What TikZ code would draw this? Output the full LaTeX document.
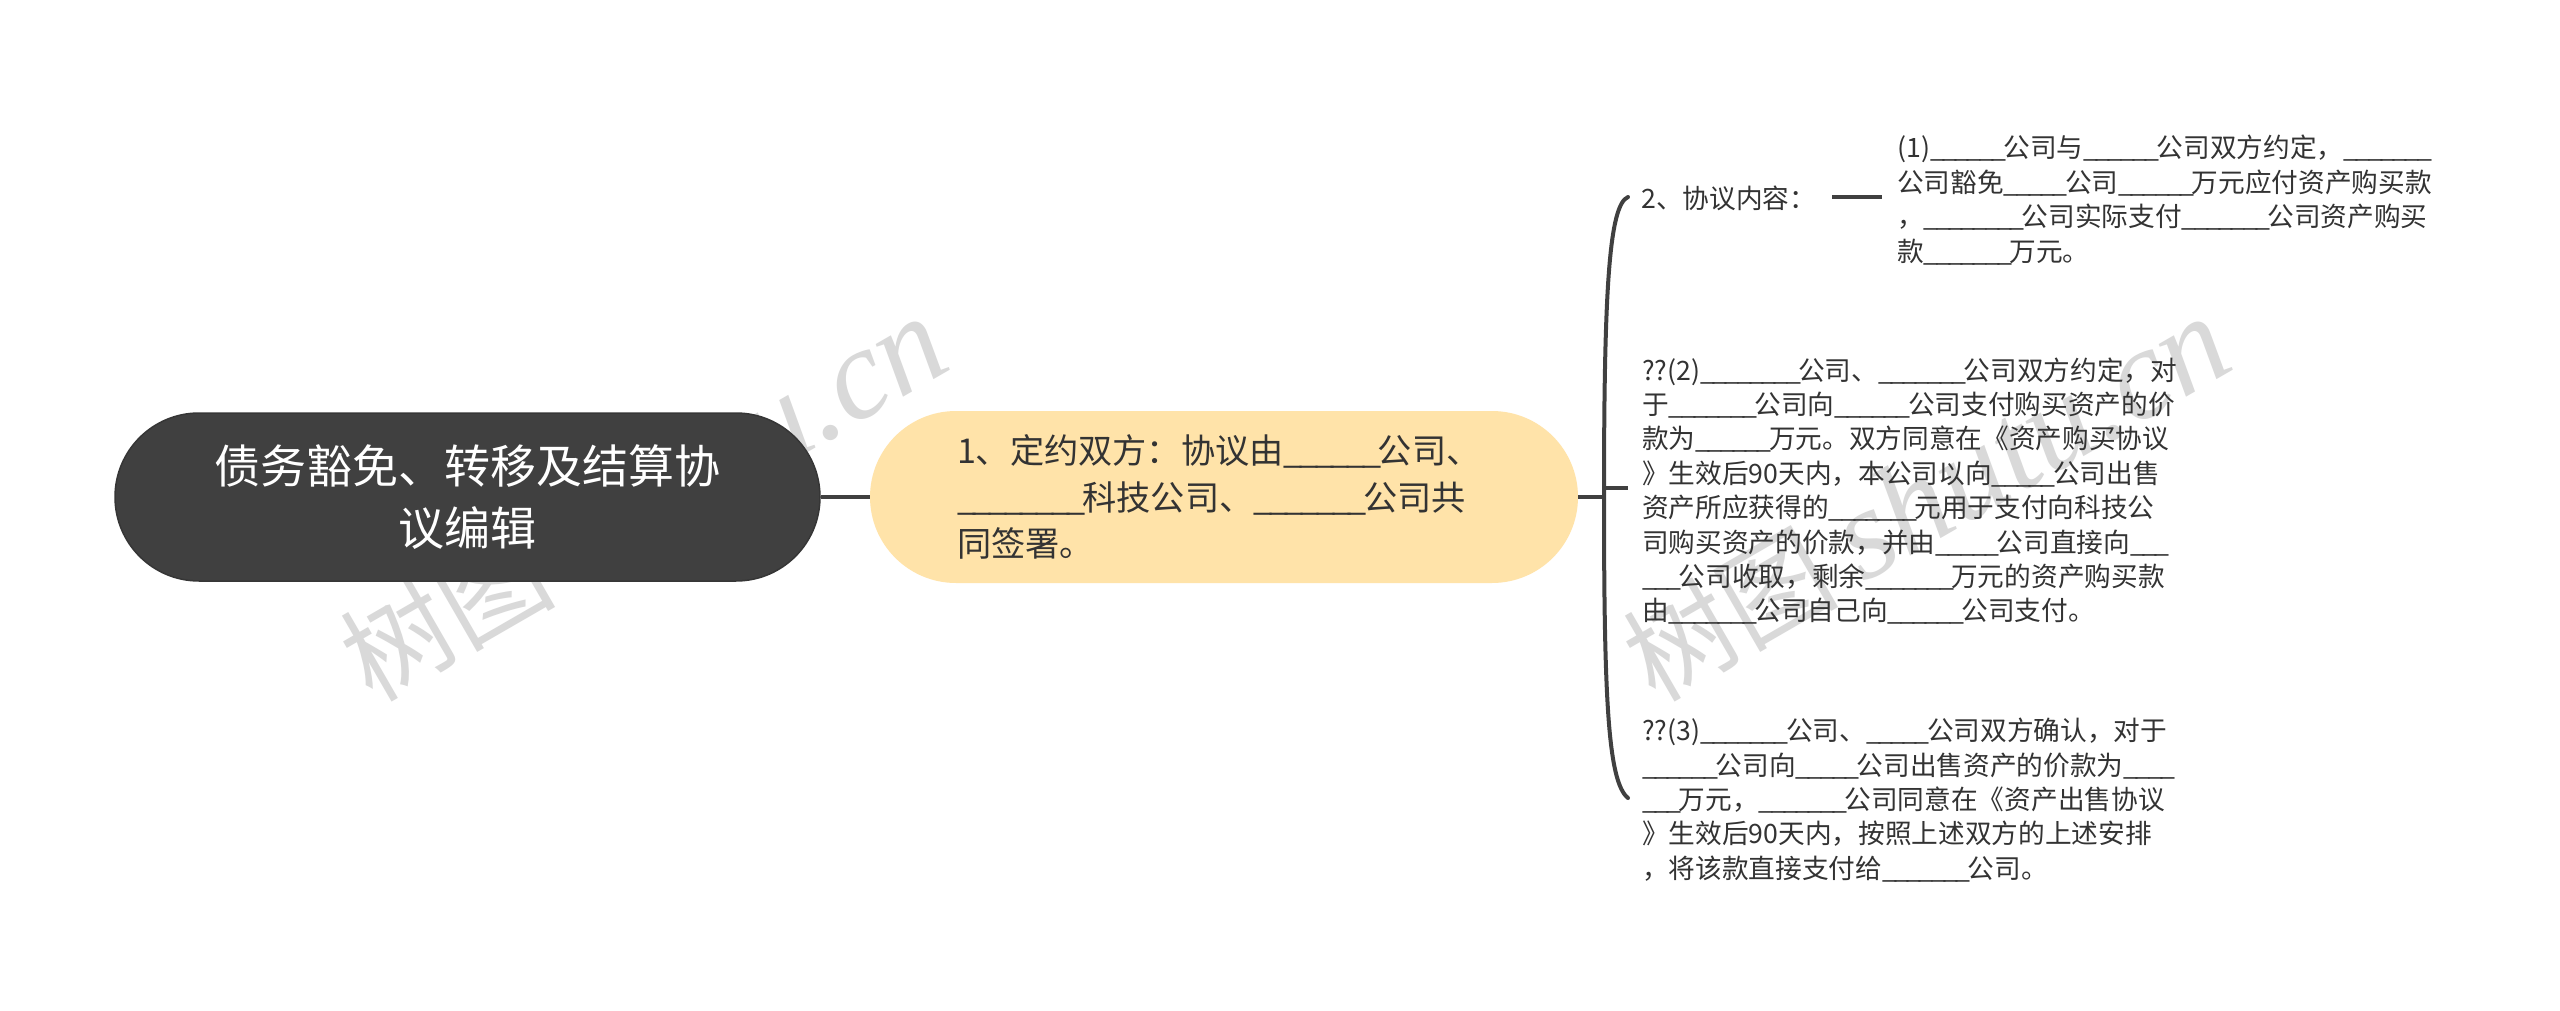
\documentclass[tikz,border=0pt]{standalone}
\usepackage{xcolor}
\usepackage{fontspec}
\usepackage{tikz}
\setmainfont{Noto Sans CJK SC}
\newfontfamily\markfont{Liberation Serif}
\definecolor{rootfill}{HTML}{404040}
\definecolor{mainfill}{HTML}{FFE3A9}
\definecolor{inkcol}{HTML}{333333}
\definecolor{markcol}{HTML}{D9D9D9}
\newcommand{\blank}[1]{\foreach \i in {1,...,#1}{\_\kern-.1em}}
\newcommand{\marktext}{树图 {\markfont\itshape\fontsize{129}{129}\selectfont shutu.cn}}
\tikzstyle{every node}=[inner sep=0pt, text=inkcol]
\tikzstyle{rootbox}=[rectangle, rounded corners=84pt, fill=rootfill, draw=rootfill!85!black, line width=1.5pt, minimum width=705pt, minimum height=168pt, align=center, text=white, font=\fontsize{46}{62}\selectfont]
\tikzstyle{mainbox}=[rectangle, rounded corners=86pt, fill=mainfill, minimum width=708pt, minimum height=172pt, text width=534pt, align=left, font=\fontsize{34.2}{46.6}\selectfont]
\tikzstyle{leaf}=[anchor=west, align=left, font=\fontsize{26.67}{34.4}\selectfont]
\tikzstyle{link}=[draw=rootfill, line width=4pt]
\tikzstyle{watermark}=[anchor=base west, rotate=30, text=markcol, font=\fontsize{108}{108}\selectfont]

\begin{document}
\begin{tikzpicture}[x=1pt, y=-1pt]

                \useasboundingbox (0, 0) rectangle (2560, 1011);
                \fill [white] (0, 0) rectangle (2560, 1011);

                \node [watermark] (markA) at (372, 704) {\marktext};
                \node [watermark] (markB) at (1655, 704) {\marktext};

                \coordinate (Top) at (1628, 197);
                \coordinate (Mid) at (1604, 497);
                \coordinate (Bot) at (1628, 798);
                \coordinate (Fork) at (1604, 488);
                \coordinate (Stub) at (1628, 488);
                \coordinate (ItemL) at (1832, 197);
                \coordinate (ItemR) at (1882, 197);

                \node [rootbox] (root) at (467.5, 497) {债务豁免、转移及结算协\\议编辑};
                \node [mainbox] (main) at (1224, 497) {1、定约双方：协议由\blank{6}公司、\\\blank{8}科技公司、\blank{7}公司共\\同签署。};

                \node [leaf] (item) at (1641, 198) {2、协议内容：};
                \node [leaf] (one) at (1897, 200) {(1)\blank{6}公司与\blank{6}公司双方约定，\blank{7}\\公司豁免\blank{5}公司\blank{6}万元应付资产购买款\\，\blank{8}公司实际支付\blank{7}公司资产购买\\款\blank{7}万元。};
                \node [leaf] (two) at (1642, 491) {??(2)\blank{8}公司、\blank{7}公司双方约定，对\\于\blank{7}公司向\blank{6}公司支付购买资产的价\\款为\blank{6}万元。双方同意在《资产购买协议\\》生效后90天内，本公司以向\blank{5}公司出售\\资产所应获得的\blank{7}元用于支付向科技公\\司购买资产的价款，并由\blank{5}公司直接向\blank{3}\\\blank{3}公司收取，剩余\blank{7}万元的资产购买款\\由\blank{7}公司自己向\blank{6}公司支付。};
                \node [leaf] (three) at (1642, 800) {??(3)\blank{7}公司、\blank{5}公司双方确认，对于\\\blank{6}公司向\blank{5}公司出售资产的价款为\blank{4}\\\blank{3}万元，\blank{7}公司同意在《资产出售协议\\》生效后90天内，按照上述双方的上述安排\\，将该款直接支付给\blank{7}公司。};

                \draw [link] (root) -- (main);
                \draw [link] (main) -- (Mid);
                \draw [link] (Fork) -- (Stub);
                \draw [link, line cap=round] (Top) .. controls (1609, 205) and (1604, 290) .. (Mid) .. controls (1604, 700) and (1608, 782) .. (Bot);
                \draw [link] (ItemL) -- (ItemR);

            \end{tikzpicture}
\end{document}
